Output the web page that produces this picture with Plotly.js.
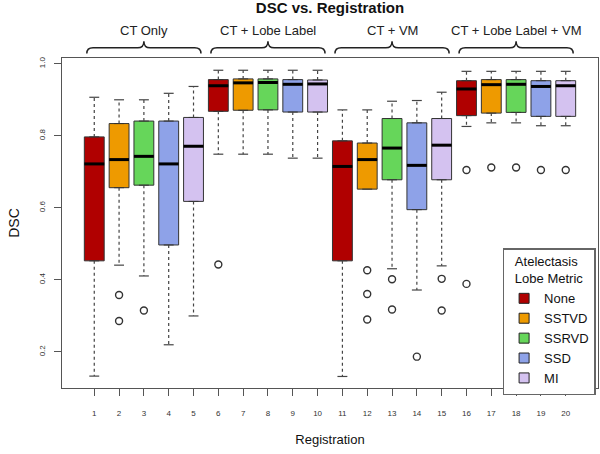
<!DOCTYPE html>
<html>
<head>
<meta charset="utf-8">
<script src="https://cdn.plot.ly/plotly-3.0.1.min.js"></script>
<style>html,body{margin:0;padding:0;background:#fff;}#chart{width:600px;height:454px;}</style>
</head>
<body>
<div id="chart"></div>
<script>
// ---- data ----
var registrations = [1,2,3,4,5,6,7,8,9,10,11,12,13,14,15,16,17,18,19,20];
var metrics = ['None','SSTVD','SSRVD','SSD','MI'];
var metricColors = ['#B00000','#EE9A00','#66D65A','#8EA2E8','#D4C2F0'];
var groupLabels = ['CT Only','CT + Lobe Label','CT + VM','CT + Lobe Label + VM'];
var groupCenters = [3,8,13,18];

var upperWhisker = [0.907,0.900,0.900,0.918,0.937, 0.982,0.982,0.982,0.982,0.982, 0.872,0.872,0.896,0.898,0.921, 0.979,0.979,0.979,0.979,0.979];
var q3 =           [0.797,0.834,0.841,0.841,0.851, 0.956,0.958,0.958,0.956,0.955, 0.786,0.780,0.848,0.836,0.848, 0.953,0.956,0.956,0.953,0.953];
var medians =      [0.722,0.734,0.743,0.722,0.771, 0.939,0.947,0.948,0.943,0.944, 0.715,0.734,0.766,0.718,0.774, 0.930,0.942,0.943,0.937,0.939];
var q1 =           [0.453,0.656,0.663,0.497,0.618, 0.868,0.871,0.872,0.866,0.866, 0.453,0.652,0.678,0.595,0.678, 0.856,0.863,0.865,0.854,0.854];
var lowerWhisker = [0.133,0.441,0.411,0.220,0.300, 0.749,0.749,0.749,0.738,0.738, 0.132,0.652,0.431,0.372,0.439, 0.826,0.836,0.836,0.828,0.828];

var outlierReg = [2,2,3,6,12,12,12,13,13,14,15,15,16,16,17,18,19,20];
var outlierVal = [0.358,0.286,0.315,0.443,0.427,0.361,0.290,0.402,0.318,0.187,0.403,0.315,0.705,0.389,0.712,0.712,0.705,0.705];

var yTicks = [0.2,0.4,0.6,0.8,1.0];
var yTickText = ['0.2','0.4','0.6','0.8','1.0'];

// ---- styling ----
var FONT = 'Liberation Sans, Arial, sans-serif';
var BOXW = 0.8, CAPW = 0.4;
var traces = [];

// boxes (one trace per metric)
metrics.forEach(function(m, mi){
  var xs=[], a=[], b=[], c=[];
  registrations.forEach(function(r, i){
    if (i % metrics.length === mi){ xs.push(r); a.push(q1[i]); b.push(medians[i]); c.push(q3[i]); }
  });
  traces.push({
    type:'box', x:xs, q1:a, median:b, q3:c, lowerfence:a, upperfence:c,
    width:BOXW, fillcolor:metricColors[mi], line:{color:'#333', width:1},
    boxpoints:false, showlegend:false, hoverinfo:'skip'
  });
});

// whiskers (dashed), caps, medians
var wx=[], wy=[], cx=[], cy=[], mx=[], my=[];
registrations.forEach(function(r, i){
  wx.push(r, r, null, r, r, null);
  wy.push(q3[i], upperWhisker[i], null, q1[i], lowerWhisker[i], null);
  if (upperWhisker[i] > q3[i]) { cx.push(r-CAPW/2, r+CAPW/2, null); cy.push(upperWhisker[i], upperWhisker[i], null); }
  if (lowerWhisker[i] < q1[i]) { cx.push(r-CAPW/2, r+CAPW/2, null); cy.push(lowerWhisker[i], lowerWhisker[i], null); }
  mx.push(r-BOXW/2, r+BOXW/2, null); my.push(medians[i], medians[i], null);
});
traces.push({type:'scatter', mode:'lines', x:wx, y:wy, line:{color:'#444', width:1.2, dash:'3px,3px'}, showlegend:false, hoverinfo:'skip'});
traces.push({type:'scatter', mode:'lines', x:cx, y:cy, line:{color:'#444', width:1.2}, showlegend:false, hoverinfo:'skip'});
traces.push({type:'scatter', mode:'lines', x:mx, y:my, line:{color:'#000', width:3}, showlegend:false, hoverinfo:'skip'});
traces.push({type:'scatter', mode:'markers', x:outlierReg, y:outlierVal,
  marker:{symbol:'circle-open', size:7, color:'#333', line:{width:1.4}}, showlegend:false, hoverinfo:'skip'});

// legend entries
metrics.forEach(function(m, mi){
  traces.push({type:'scatter', mode:'markers', x:[null], y:[null], name:m,
    marker:{symbol:'square', size:10, color:metricColors[mi], line:{color:'#222', width:1}}});
});

// brackets above the plot
var shapes = [];
var yH = 1.031, yEnd = 1.0137, yPeak = 1.051, half = 2.3, r = 0.25;
groupCenters.forEach(function(c){
  var x0 = c-half, x1 = c+half;
  var p = 'M '+x0+','+yEnd+' Q '+x0+','+yH+' '+(x0+r)+','+yH+
          ' L '+(c-r)+','+yH+' Q '+c+','+yH+' '+c+','+yPeak+
          ' Q '+c+','+yH+' '+(c+r)+','+yH+
          ' L '+(x1-r)+','+yH+' Q '+x1+','+yH+' '+x1+','+yEnd;
  shapes.push({type:'path', xref:'x', yref:'paper', path:p, line:{color:'#222', width:1.5}});
});
var annotations = groupLabels.map(function(t, i){
  return {text:t, x:groupCenters[i], xref:'x', y:1.082, yref:'paper', yanchor:'middle',
    showarrow:false, font:{family:FONT, size:13, color:'#222'}};
});

var layout = {
  width:600, height:454,
  margin:{l:62, r:2, t:58, b:66},
  paper_bgcolor:'#fff', plot_bgcolor:'#fff',
  boxmode:'overlay',
  title:{text:'<b>DSC vs. Registration</b>', x:0.5, xref:'paper', y:0.9835, yref:'container', yanchor:'middle',
    font:{family:FONT, size:15, color:'#111'}},
  xaxis:{range:[-0.3,21.3], tickmode:'array', tickvals:registrations, ticktext:registrations.map(String),
    showgrid:false, zeroline:false, showline:true, mirror:true, linecolor:'#555', linewidth:1,
    ticks:'outside', ticklen:7, tickcolor:'#555', tickfont:{family:FONT, size:8, color:'#333'},
    ticklabelstandoff:10,
    title:{text:'Registration', font:{family:FONT, size:13, color:'#111'}, standoff:18}},
  yaxis:{range:[0.100,1.016], tickmode:'array', tickvals:yTicks, ticktext:yTickText, tickangle:-90,
    showgrid:false, zeroline:false, showline:true, mirror:true, linecolor:'#555', linewidth:1,
    ticks:'outside', ticklen:7, tickcolor:'#555', tickfont:{family:FONT, size:8, color:'#333'},
    ticklabelstandoff:6,
    title:{text:'DSC', font:{family:FONT, size:14, color:'#111'}, standoff:14}},
  legend:{x:0.822, xanchor:'left', y:0.424, yanchor:'top', bgcolor:'#fff',
    bordercolor:'#666', borderwidth:1.5, font:{family:FONT, size:13, color:'#111'},
    title:{text:'Atelectasis<br>Lobe Metric', side:'top center', font:{family:FONT, size:13, color:'#111'}},
    itemwidth:30, tracegroupgap:0},
  shapes:shapes, annotations:annotations
};

Plotly.newPlot('chart', traces, layout, {staticPlot:true, displayModeBar:false});
</script>
</body>
</html>
